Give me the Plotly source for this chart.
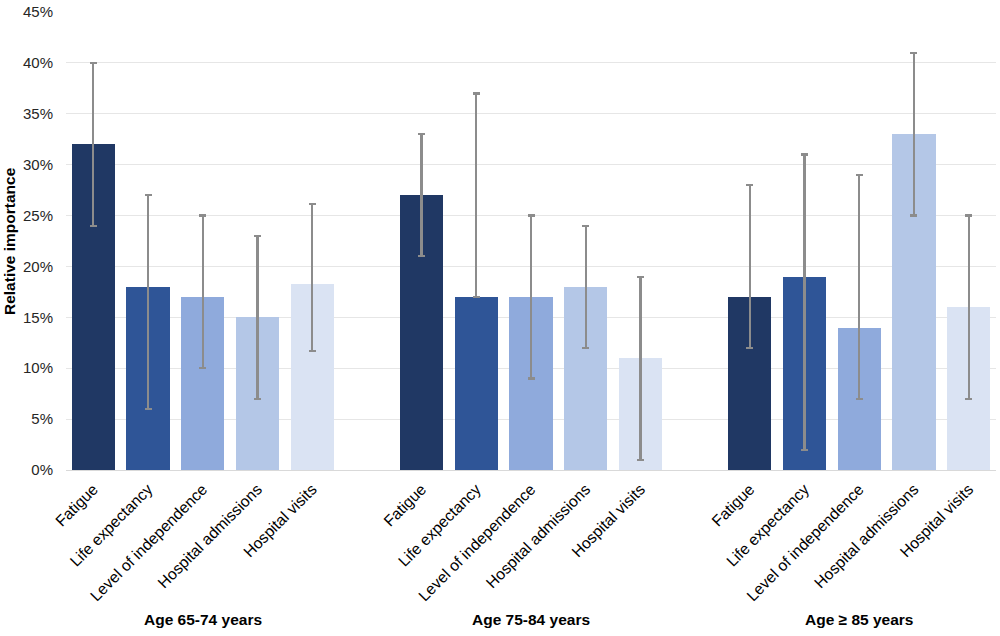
import plotly.graph_objects as go

groups = ["Age 65-74 years", "Age 75-84 years", "Age \u2265 85 years"]
attributes = ["Fatigue", "Life expectancy", "Level of independence",
              "Hospital admissions", "Hospital visits"]
colors = ["#203864", "#2F5597", "#8FAADC", "#B4C7E7", "#DAE3F3"]

# relative importance (%) per group, per attribute
values = [
    [32, 18, 17, 15, 18.3],
    [27, 17, 17, 18, 11],
    [17, 19, 14, 33, 16],
]
ci_low = [
    [24, 6, 10, 7, 11.7],
    [21, 17, 9, 12, 1],
    [12, 2, 7, 25, 7],
]
ci_high = [
    [40, 27, 25, 23, 26.1],
    [33, 37, 25, 24, 19],
    [28, 31, 29, 41, 25],
]

GAP = 6  # slots per group (5 bars + 1 empty)
xs, ys, cols, plus, minus, tickvals, ticktext = [], [], [], [], [], [], []
for g in range(len(groups)):
    for i, a in enumerate(attributes):
        x = g * GAP + i
        v = values[g][i]
        xs.append(x)
        ys.append(v / 100)
        cols.append(colors[i])
        plus.append((ci_high[g][i] - v) / 100)
        minus.append((v - ci_low[g][i]) / 100)
        tickvals.append(x)
        ticktext.append(a)

fig = go.Figure()
fig.add_trace(go.Bar(
    x=xs, y=ys, width=0.79,
    marker=dict(color=cols, line=dict(width=0)),
    error_y=dict(type="data", array=plus, arrayminus=minus,
                 color="#8C8C8C", thickness=2.2, width=3.5),
    showlegend=False,
))

font_family = "Liberation Sans, Arial, sans-serif"
for g, name in enumerate(groups):
    fig.add_annotation(x=g * GAP + 2, xref="x", y=-0.327, yref="paper",
                       text="<b>%s</b>" % name, showarrow=False,
                       font=dict(size=15.5, color="#000000", family=font_family),
                       yanchor="middle")

fig.add_annotation(x=0, xref="paper", xshift=-57, y=0.5, yref="paper",
                   text="<b>Relative importance</b>", textangle=-90,
                   showarrow=False, xanchor="center", yanchor="middle",
                   font=dict(size=15.5, color="#000000", family=font_family))

fig.update_layout(
    width=1000, height=636,
    margin=dict(l=66, r=4, t=12, b=166, autoexpand=False),
    plot_bgcolor="white", paper_bgcolor="white",
    font=dict(family=font_family, color="#000000"),
    bargap=0,
)
fig.update_xaxes(
    range=[-0.5, 2 * GAP + 4.5], automargin=False,
    tickmode="array", tickvals=tickvals, ticktext=ticktext,
    tickangle=-45, tickfont=dict(size=15.7, color="#000000"),
    showgrid=False, showline=True, linecolor="#D9D9D9", linewidth=1,
    ticks="", zeroline=False, ticklabelstandoff=3,
)
fig.update_yaxes(
    range=[0, 0.45], dtick=0.05, tickformat=".0%", automargin=False,
    tickfont=dict(size=15, color="#262626"),
    showgrid=True, gridcolor="#E6E6E6", gridwidth=1,
    zeroline=False, ticklabelstandoff=12,
)

fig.write_html(
    "out.html",
    config={"displayModeBar": False},
    post_script="document.body.style.margin='0';document.body.style.padding='0';"
                "document.body.style.overflow='hidden';",
)
